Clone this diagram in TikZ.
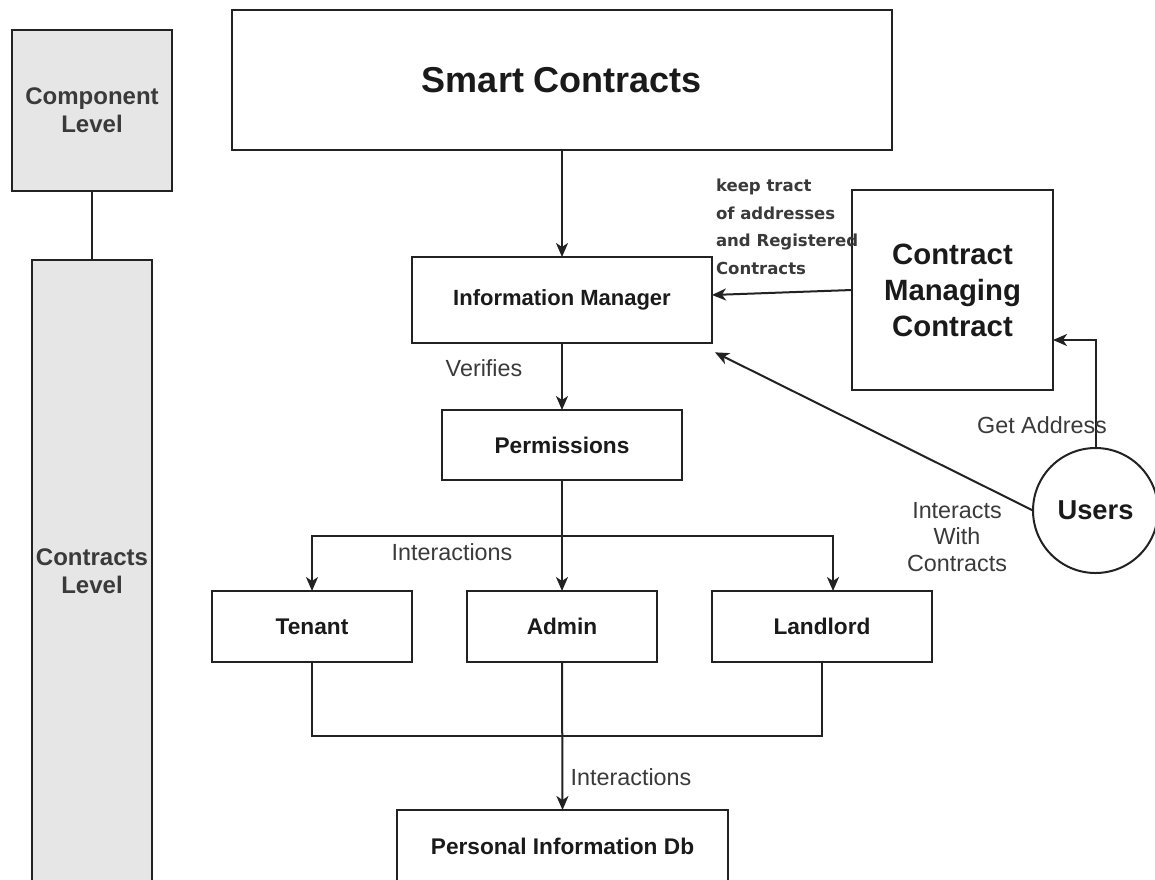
\documentclass[tikz,border=0pt]{standalone}
\usepackage{fontspec}
\setmainfont{Liberation Sans}
\newfontfamily\dejavu{DejaVu Sans}
\usetikzlibrary{arrows.meta}
\definecolor{lvlfill}{HTML}{E6E6E6}
\definecolor{txt}{HTML}{1A1A1A}
\definecolor{lbl}{HTML}{3A3A3A}
\definecolor{edge}{HTML}{222222}
\begin{document}
\begin{tikzpicture}[x=0.75pt,y=-0.75pt,line width=1.5pt,draw=edge,
  box/.style={draw=edge,fill=white,inner sep=0pt,outer sep=0pt,align=center,text=txt,
    font=\bfseries\fontsize{17pt}{20pt}\selectfont},
  lvl/.style={draw=edge,fill=lvlfill,inner sep=0pt,outer sep=0pt,align=center,text=lbl,
    font=\bfseries\fontsize{18pt}{21pt}\selectfont},
  lab/.style={inner sep=0pt,align=center,text=lbl,font=\fontsize{17.5pt}{20pt}\selectfont},
  arr/.style={-{Stealth[length=10.5pt,width=9pt,inset=3pt]}}]
\useasboundingbox (0,0) rectangle (1155,879);
\clip (0,0) rectangle (1155,879);
\fill[white] (0,0) rectangle (1155,879);

% level boxes
\node[lvl,minimum width=120pt,minimum height=120.75pt] (comp) at (92,110) {Component\\Level};
\node[lvl,minimum width=90pt,minimum height=466.5pt] (cont) at (92,571) {Contracts\\Level};
\draw (comp.south) -- (cont.north);

% main boxes
\node[box,minimum width=495pt,minimum height=105pt,font=\bfseries\fontsize{27pt}{32pt}\selectfont] (sc) at (562,80) {Smart Contracts};
\node[box,minimum width=225pt,minimum height=64.5pt,font=\bfseries\fontsize{16.5pt}{20pt}\selectfont] (im) at (562,300) {Information Manager};
\node[box,minimum width=150.75pt,minimum height=150pt,font=\bfseries\fontsize{22pt}{27pt}\selectfont] (cmc) at (952.5,290) {Contract\\Managing\\Contract};
\node[circle,draw=edge,fill=white,minimum size=93.75pt,inner sep=0pt,outer sep=0pt,text=txt,font=\bfseries\fontsize{20.5pt}{24pt}\selectfont] (users) at (1095.5,510.5) {Users};
\node[box,minimum width=180pt,minimum height=52.5pt] (perm) at (562,445) {Permissions};
\node[box,minimum width=150pt,minimum height=53.25pt] (ten) at (312,626.5) {Tenant};
\node[box,minimum width=142.5pt,minimum height=53.25pt] (adm) at (562,626.5) {Admin};
\node[box,minimum width=165pt,minimum height=53.25pt] (land) at (822,626.5) {Landlord};
\node[box,minimum width=248.25pt,minimum height=54pt] (pid) at (562.5,846) {Personal Information Db};

% connectors
\draw[arr] (sc.south) -- (im.north);
\draw[arr] (cmc.west) -- ([yshift=3.75pt]im.east);
\draw[arr] (users.west) -- ([xshift=2.25pt,yshift=-7pt]im.south east);
\draw[arr] (users.north) |- ([yshift=-37.5pt]cmc.east);
\draw[arr] (im.south) -- (perm.north);
\coordinate (bus) at (562,536);
\draw[arr] (perm.south) -- (adm.north);
\draw[arr] (bus) -| (ten.north);
\draw[arr] (bus) -| ([xshift=8.25pt]land.north);
\coordinate (jn) at (562,736);
\draw (ten.south) |- (jn) -| (land.south);
\draw[arr] (adm.south) -- (pid.north);

% labels
\node[inner sep=0pt,anchor=west,align=left,text=lbl,font=\dejavu\bfseries\fontsize{12.4pt}{20.6pt}\selectfont] (keep) at (715,227) {keep tract\\of addresses\\and Registered\\Contracts};
\node[lab] (getaddr) at (1042,425) {Get Address};
\node[lab] (inter) at (957,537) {Interacts\\With\\Contracts};
\node[lab] (verif) at (484,368) {Verifies};
\node[lab] (int1) at (452,552) {Interactions};
\node[lab] (int2) at (631,777) {Interactions};
\end{tikzpicture}
\end{document}
